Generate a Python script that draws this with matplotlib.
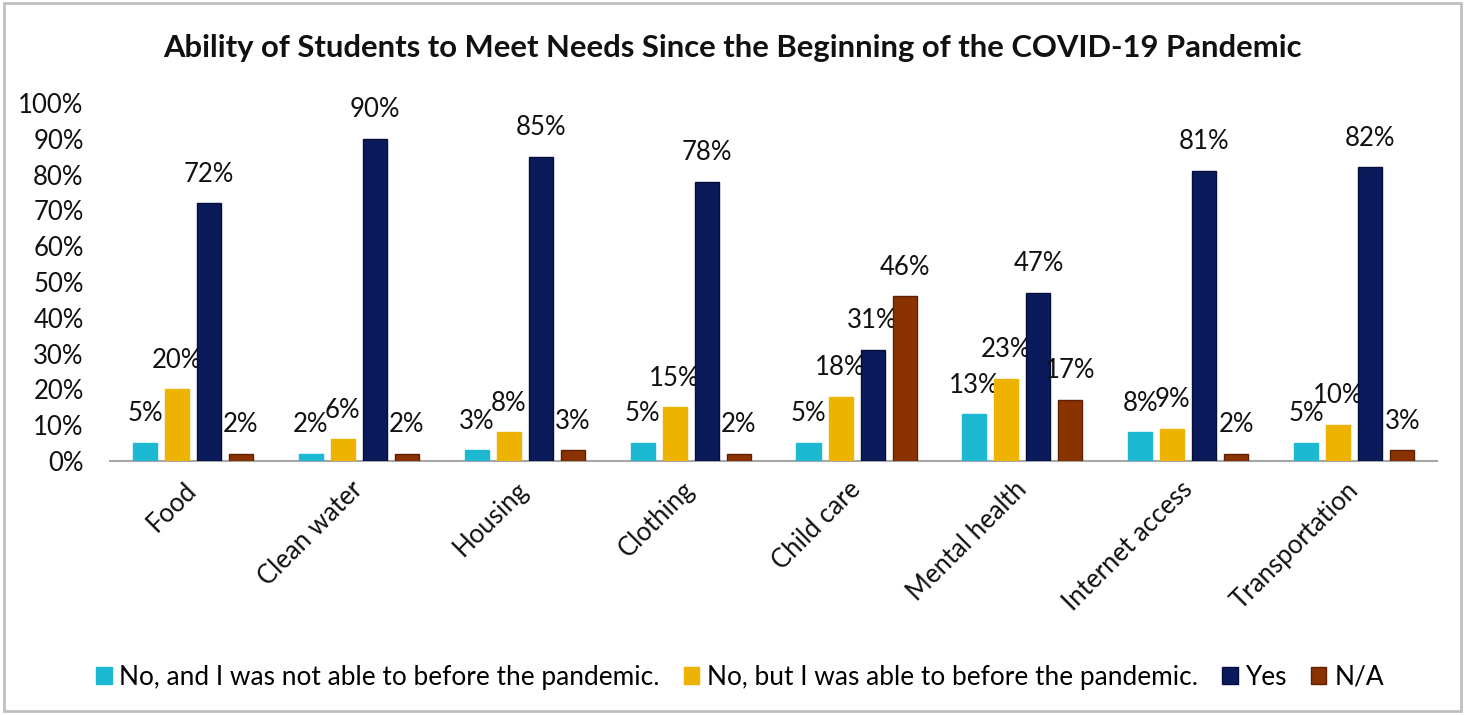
import matplotlib.pyplot as plt
import numpy as np
from matplotlib.patches import Rectangle

plt.rcParams["font.family"] = ["Lato", "DejaVu Sans"]

categories = ["Food", "Clean water", "Housing", "Clothing", "Child care",
              "Mental health", "Internet access", "Transportation"]
series_names = ["No, and I was not able to before the pandemic.",
                "No, but I was able to before the pandemic.",
                "Yes", "N/A"]
no_not_before = [5, 2, 3, 5, 5, 13, 8, 5]
no_but_before = [20, 6, 8, 15, 18, 23, 9, 10]
yes = [72, 90, 85, 78, 31, 47, 81, 82]
not_applicable = [2, 2, 3, 2, 46, 17, 2, 3]
yticks = list(range(0, 101, 10))

colors = ["#1DB9D3", "#EEB300", "#0B1A5A", "#8A3200"]
edges = ["#1DB9D3", "#EEB300", "#050E3A", "#5E2000"]
txt = "#111111"

fig = plt.figure(figsize=(14.65, 7.15), dpi=100)
ax = fig.add_axes([0.0751, 0.3553, 0.9059, 0.5007])

x = np.arange(len(categories))
width = 0.145
step = 0.193
values = [no_not_before, no_but_before, yes, not_applicable]

for i, (vals, name) in enumerate(zip(values, series_names)):
    pos = x + (i - 1.5) * step
    ax.bar(pos, vals, width=width, color=colors[i], edgecolor=edges[i],
           linewidth=1.0, label=name, zorder=3)
    for xp, v in zip(pos, vals):
        ax.annotate(f"{v}%", (xp, v), xytext=(0, 21), textcoords="offset points",
                    ha="center", va="center", fontsize=18.5, color=txt)

ax.set_xlim(-0.5, len(categories) - 0.5)
ax.set_ylim(0, 100)
ax.set_yticks(yticks)
ax.set_yticklabels([f"{t}%" for t in yticks], fontsize=18.5, color=txt)
ax.set_xticks(x)
ax.set_xticklabels(categories, rotation=45, ha="right", va="center",
                   rotation_mode="anchor", fontsize=18.5, color=txt)
ax.tick_params(axis="both", length=0)
ax.tick_params(axis="x", pad=18)
ax.tick_params(axis="y", pad=19)

for side in ["top", "right", "left"]:
    ax.spines[side].set_visible(False)
ax.spines["bottom"].set_color("#A6A6A6")
ax.spines["bottom"].set_linewidth(1.5)

fig.text(0.5, 0.933, "Ability of Students to Meet Needs Since the Beginning of the COVID-19 Pandemic",
         ha="center", va="center", fontsize=22.3, fontweight="bold", color=txt)

fig.legend(loc="center", bbox_to_anchor=(0.505, 0.053), ncol=4, frameon=False,
           fontsize=18.9, handlelength=0.6, handleheight=0.6, handletextpad=0.3,
           columnspacing=0.9)

fig.patches.append(Rectangle((0.003, 0.006), 0.994, 0.99, transform=fig.transFigure,
                             fill=False, edgecolor="#BFBFBF", linewidth=2))

fig.savefig("out.png", dpi=100)
